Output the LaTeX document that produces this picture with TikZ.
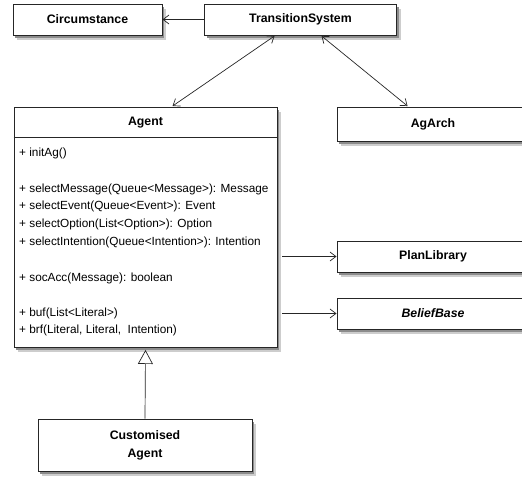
\documentclass[tikz,border=0pt]{standalone}
\usepackage{fontspec}
\setmainfont{Liberation Sans}
\usetikzlibrary{arrows.meta,calc}
\definecolor{shdA}{RGB}{205,205,205}
\definecolor{shdB}{RGB}{140,140,140}
\begin{document}
\begin{tikzpicture}[x=1pt,y=-1pt,
  umlbox/.style={draw=black!85,line width=0.9pt,fill=white,rectangle,inner sep=0pt,
    font=\fontsize{12.3}{14}\selectfont\bfseries,align=center},
  member/.style={anchor=west,inner sep=0pt,font=\fontsize{11.8}{13}\selectfont},
  conn/.style={draw=black!85,line width=0.7pt},
  shadowA/.style={fill=shdA,draw=none},
  shadowB/.style={fill=shdB,draw=none},
  open/.style={conn,-{Straight Barb[length=6pt,width=9pt,line width=0.7pt]}},
  both/.style={conn,{Straight Barb[length=6pt,width=9pt,line width=0.7pt]}-{Straight Barb[length=6pt,width=9pt,line width=0.7pt]}},
  inherit/.style={conn,-{Triangle[open,length=14pt,width=15pt,line width=0.7pt,fill=white]}}]
\useasboundingbox (0,0) rectangle (522,477);

% shadows (drawn first, behind the boxes)
\foreach \xa/\ya/\xb/\yb in {13/4/162/35, 204.5/4/396.5/35, 337/107/529/141, 337/241/529/272, 337/298/529/329, 14/107/277/347, 38/419/252/471}{
  \path[shadowA] (\xa+4,\ya+5) rectangle (\xb+4,\yb+5);
  \path[shadowB] (\xa+2,\ya+3) rectangle (\xb+2,\yb+3);
}

\node[umlbox,minimum width=149pt,minimum height=31pt] (circ) at (87.5,19.5) {Circumstance};
\node[umlbox,minimum width=192pt,minimum height=31pt] (ts) at (300.5,19.5) {TransitionSystem};
\node[umlbox,minimum width=192pt,minimum height=34pt] (agarch) at (433,124) {AgArch};
\node[umlbox,minimum width=192pt,minimum height=31pt] (plan) at (433,256.5) {PlanLibrary};
\node[umlbox,minimum width=192pt,minimum height=31pt] (bb) at (433,313.5) {\itshape BeliefBase};
\node[umlbox,minimum width=263pt,minimum height=240pt] (agent) at (145.5,227) {};
\node[umlbox,minimum width=214pt,minimum height=52pt] (cust) at (145,445) {Customised\\[4pt]Agent};

\node[font=\fontsize{12.3}{14}\selectfont\bfseries,inner sep=0pt] (agtitle) at (145.5,123) {Agent};
\coordinate (sepL) at ($(agent.north west)+(0,31)$);
\coordinate (sepR) at ($(agent.north east)+(0,31)$);
\draw[draw=black!85,line width=0.9pt] (sepL) -- (sepR);

\node[member] (m1) at (19,153) {+ initAg()};
\node[member] (m2) at (19,189) {+ selectMessage(Queue<Message>): Message};
\node[member] (m3) at (19,206.5) {+ selectEvent(Queue<Event>): Event};
\node[member] (m4) at (19,224.5) {+ selectOption(List<Option>): Option};
\node[member] (m5) at (19,242) {+ selectIntention(Queue<Intention>): Intention};
\node[member] (m6) at (19,278) {+ socAcc(Message): boolean};
\node[member] (m7) at (19,313) {+ buf(List<Literal>)};
\node[member] (m8) at (19,330) {+ brf(Literal, Literal,\ \ Intention)};

\draw[open] (ts.west) -- (circ.east);
\coordinate (ts1) at ($(ts.south west)+(70.5,0.5)$);
\coordinate (ag1) at ($(agent.north west)+(159,-0.5)$);
\draw[both] (ts1) -- (ag1);
\coordinate (ts2) at ($(ts.south west)+(117.5,0.5)$);
\coordinate (aa1) at ($(agarch.north west)+(71,-0.5)$);
\draw[both] (ts2) -- (aa1);
\coordinate (pl1) at ($(agent.east |- plan.west)+(5,0)$);
\draw[open] (pl1) -- (plan.west);
\coordinate (bb1) at ($(agent.east |- bb.west)+(5,0)$);
\draw[open] (bb1) -- (bb.west);
\coordinate (ag2) at ($(agent.south)+(0,2.5)$);
\draw[inherit] (cust.north) -- (ag2);
\end{tikzpicture}
\end{document}
